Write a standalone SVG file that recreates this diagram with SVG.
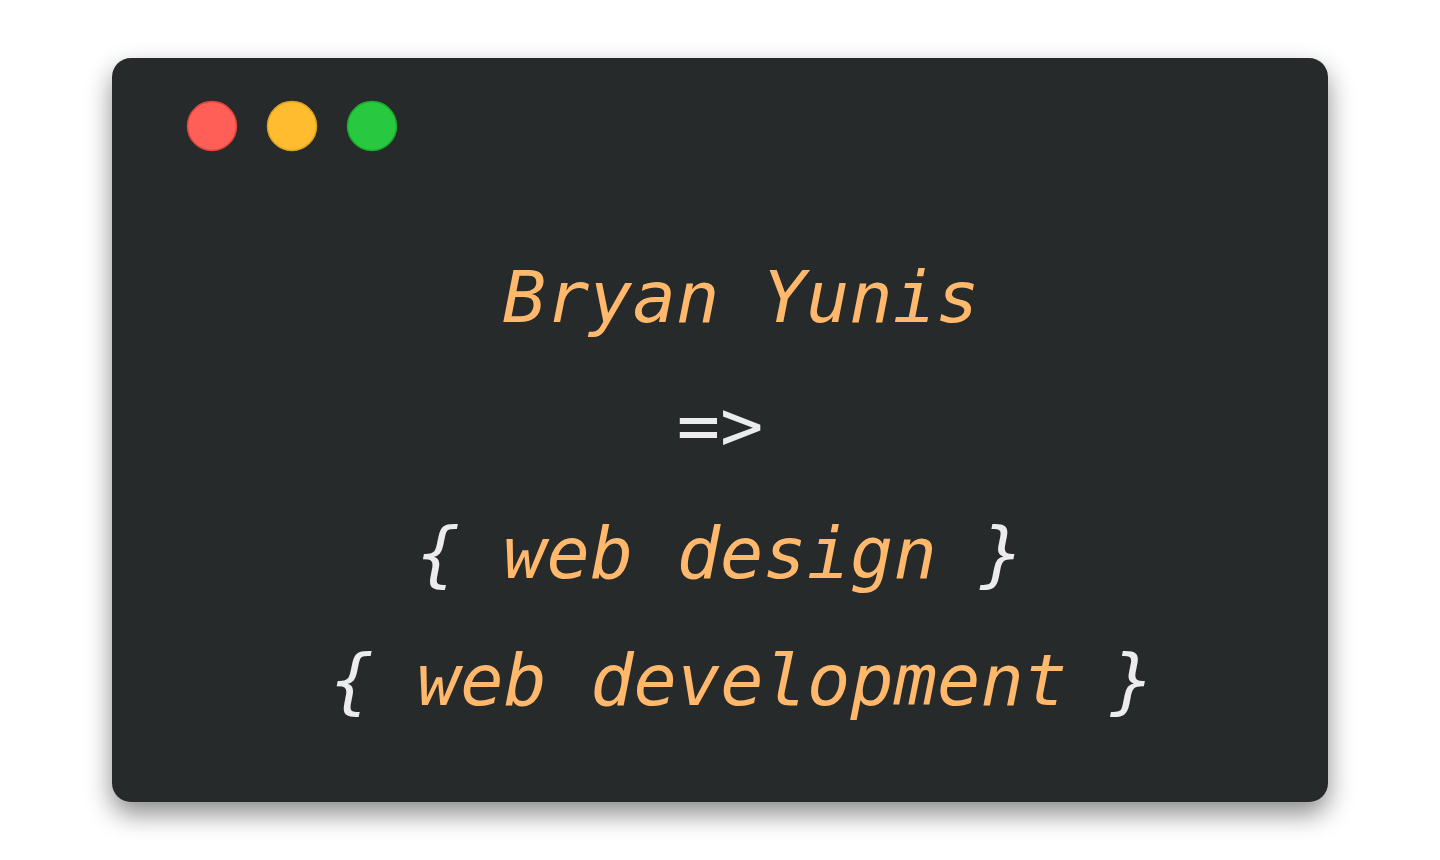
<svg xmlns="http://www.w3.org/2000/svg" width="1440" height="860" viewBox="0 0 1440 860">
  <defs>
    <filter id="shadow" x="-10%" y="-10%" width="120%" height="130%">
      <feDropShadow dx="0" dy="12" stdDeviation="13" flood-color="#000000" flood-opacity="0.45"/>
    </filter>
  </defs>
  <style>
    .code { font-family: "DejaVu Sans Mono", "Liberation Mono", monospace; font-style: italic; font-size: 72px; text-anchor: middle; }
    .name { fill: #ffb86c; }
    .punct { fill: #ececec; }
  </style>
  <rect x="0" y="0" width="1440" height="860" fill="#ffffff"/>
  <g id="window">
    <rect x="112" y="58" width="1216" height="744" rx="19" ry="19" fill="#28292b" filter="url(#shadow)"/>
  </g>
  <g id="buttons">
    <circle id="btn-close" cx="212" cy="126" r="24.5" fill="#ff5f57" stroke="#e0443e" stroke-width="1.5"/>
    <circle id="btn-min" cx="292" cy="126" r="24.5" fill="#febc2e" stroke="#dea123" stroke-width="1.5"/>
    <circle id="btn-max" cx="372" cy="126" r="24.5" fill="#28c840" stroke="#1aab29" stroke-width="1.5"/>
  </g>
  <g id="text">
    <text class="code name" x="741" y="322">Bryan Yunis</text>
    <text class="code punct" x="720" y="450">=&gt;</text>
    <text class="code" x="720" y="578"><tspan class="punct">{</tspan><tspan class="name"> web design </tspan><tspan class="punct">}</tspan></text>
    <text class="code" x="742" y="705"><tspan class="punct">{</tspan><tspan class="name"> web development </tspan><tspan class="punct">}</tspan></text>
  </g>
</svg>
